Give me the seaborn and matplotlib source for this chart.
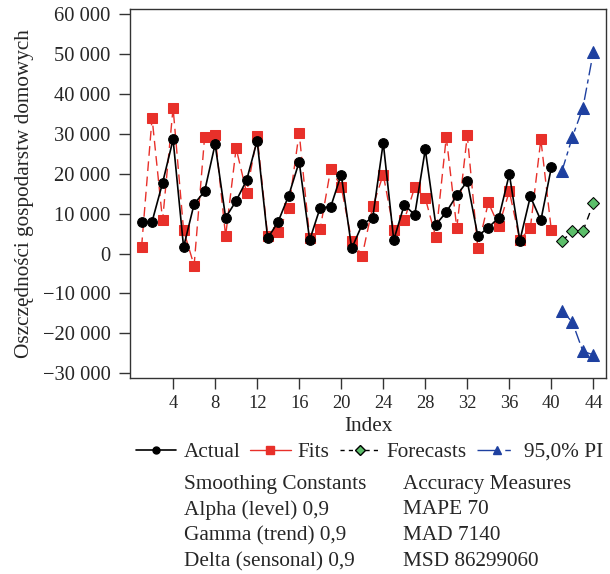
import numpy as np
import pandas as pd
import matplotlib
matplotlib.use("Agg")
import matplotlib.pyplot as plt
from matplotlib.ticker import FuncFormatter, FixedLocator
from matplotlib.lines import Line2D
import seaborn as sns

# ---- data ----
index_actual = list(range(1, 41))
actual = [8000, 8000, 17700, 28600, 1600, 12400, 15600, 27400, 9000, 13200,
          18400, 28300, 3800, 8000, 14500, 23000, 3400, 11500, 11700, 19800,
          1300, 7300, 9000, 27800, 3400, 12200, 9700, 26100, 7200, 10400,
          14600, 18100, 4400, 6500, 9000, 19900, 3200, 14300, 8300, 21600]
fits = [1600, 34000, 8300, 36500, 5800, -3000, 29200, 29600, 4400, 26400,
        15200, 29500, 4400, 5500, 11400, 30300, 3800, 6200, 21200, 16800,
        3100, -500, 11800, 19800, 5800, 8400, 16600, 13900, 4100, 29200,
        6400, 29600, 1300, 12800, 6900, 15600, 3400, 6400, 28600, 5800]
index_fc = [41, 42, 43, 44]
forecasts = [3100, 5600, 5600, 12600]
pi_upper = [20600, 29200, 36500, 50600]
pi_lower = [-14300, -17200, -24500, -25400]

x_ticks = [4, 8, 12, 16, 20, 24, 28, 32, 36, 40, 44]
y_ticks = [60000, 50000, 40000, 30000, 20000, 10000, 0, -10000, -20000, -30000]

legend_labels = ["Actual", "Fits", "Forecasts", "95,0% PI"]
text_left = ["Smoothing Constants", "Alpha (level) 0,9", "Gamma (trend) 0,9", "Delta (sensonal) 0,9"]
text_right = ["Accuracy Measures", "MAPE 70", "MAD 7140", "MSD 86299060"]
ylabel = "Oszczędności gospodarstw domowych"
xlabel = "Index"

# ---- style ----
sns.set_style("ticks")
plt.rcParams["font.family"] = ["Liberation Serif", "DejaVu Serif"]

RED = "#e8302a"
BLUE = "#1e40a0"
GREEN = "#5cbf6a"
FS = 15.3

fig = plt.figure(figsize=(6.1, 5.74), dpi=100)
ax = fig.add_axes([130 / 610, 1 - 378 / 574, 476 / 610, 369 / 574])

df_a = pd.DataFrame({"Index": index_actual, "Actual": actual, "Fits": fits})
df_f = pd.DataFrame({"Index": index_fc, "Forecast": forecasts, "Upper": pi_upper, "Lower": pi_lower})

sns.lineplot(data=df_a, x="Index", y="Fits", ax=ax, color=RED, lw=1.0,
             marker="s", markersize=7, markeredgecolor=RED, markerfacecolor=RED,
             linestyle=(0, (7, 4)), zorder=2)
sns.lineplot(data=df_a, x="Index", y="Actual", ax=ax, color="black", lw=1.2,
             marker="o", markersize=7, markeredgecolor="black", zorder=3)
sns.lineplot(data=df_f, x="Index", y="Forecast", ax=ax, color="black", lw=1.0,
             linestyle=(0, (5, 4)), marker="D", markersize=6,
             markerfacecolor=GREEN, markeredgecolor="black", zorder=3)
for col in ["Upper", "Lower"]:
    sns.lineplot(data=df_f, x="Index", y=col, ax=ax, color=BLUE, lw=1.0,
                 linestyle=(0, (9, 3, 3, 3)), marker="^", markersize=8,
                 markeredgecolor=BLUE, markerfacecolor=BLUE, zorder=3)

ax.set_xlim(-0.1, 45.2)
ax.set_ylim(-31200, 61300)
ax.xaxis.set_major_locator(FixedLocator(x_ticks))
ax.yaxis.set_major_locator(FixedLocator(y_ticks))


def fmt(v, pos):
    v = int(round(v))
    s = f"{abs(v):,}".replace(",", " ")
    return ("\u2212" + s) if v < 0 else s


ax.yaxis.set_major_formatter(FuncFormatter(fmt))
ax.tick_params(axis="both", direction="out", length=8, width=1, color="#333333")
ax.tick_params(axis="y", labelsize=14.8, pad=6)
ax.tick_params(axis="x", labelsize=13.3, pad=4)
for sp in ax.spines.values():
    sp.set_visible(True)
    sp.set_linewidth(1.0)
    sp.set_color("#333333")

ax.set_xlabel(xlabel, fontsize=FS, labelpad=4)
ax.set_ylabel(ylabel, fontsize=FS, labelpad=6)

handles = [
    Line2D([], [], color="black", lw=1.2, marker="o", markersize=5),
    Line2D([], [], color=RED, lw=1.0, marker="s", markersize=6),
    Line2D([], [], color="black", lw=1.0, linestyle=(0, (3, 3)), marker="D", markersize=5,
           markerfacecolor=GREEN, markeredgecolor="black"),
    Line2D([], [], color=BLUE, lw=1.0, linestyle=(0, (14, 6, 4, 6)), marker="^", markersize=6),
]
fig.legend(handles, legend_labels, loc="center left", bbox_to_anchor=(136 / 610, 1 - 452 / 574),
           ncol=4, frameon=False, fontsize=FS, handlelength=1.9, handletextpad=0.33,
           columnspacing=0.47, borderaxespad=0, borderpad=0)

ys = [484, 510, 536, 562]
for t1, t2, y in zip(text_left, text_right, ys):
    fig.text(184 / 610, 1 - y / 574, t1, fontsize=FS, ha="left", va="center")
    fig.text(403 / 610, 1 - y / 574, t2, fontsize=FS, ha="left", va="center")

fig.savefig("out.png", dpi=100)
